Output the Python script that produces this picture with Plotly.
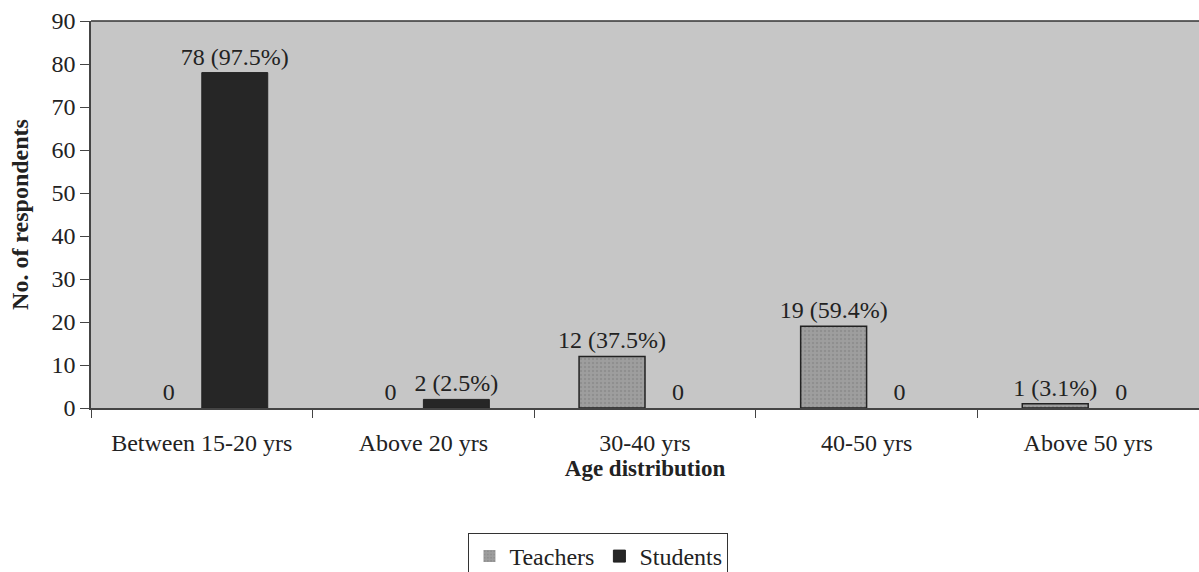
import plotly.graph_objects as go

categories = ["Between 15-20 yrs", "Above 20 yrs", "30-40 yrs", "40-50 yrs", "Above 50 yrs"]
teachers = [0, 0, 12, 19, 1]
students = [78, 2, 0, 0, 0]
teachers_text = ["0", "0", "12 (37.5%)", "19 (59.4%)", "1 (3.1%)"]
students_text = ["78 (97.5%)", "2 (2.5%)", "0", "0", "0"]

FONT = "Liberation Serif"
FS = 24

fig = go.Figure()
fig.add_trace(go.Bar(
    name="Teachers", x=categories, y=teachers, text=teachers_text,
    textposition="outside", cliponaxis=False, constraintext="none",
    textfont=dict(family=FONT, size=FS, color="#222"),
    marker=dict(color="#9e9e9e",
                line=dict(color="#222", width=[1.5 if v else 0 for v in teachers]),
                pattern=dict(shape=".", fgcolor="#808080", size=4, solidity=0.3)),
))
fig.add_trace(go.Bar(
    name="Students", x=categories, y=students, text=students_text,
    textposition="outside", cliponaxis=False, constraintext="none",
    textfont=dict(family=FONT, size=FS, color="#222"),
    marker=dict(color="#262626",
                line=dict(color="#222", width=[1 if v else 0 for v in students])),
))

fig.update_layout(
    width=1199, height=572,
    margin=dict(l=91, r=0, t=21, b=164, autoexpand=False),
    paper_bgcolor="white", plot_bgcolor="#c6c6c6",
    barmode="group", bargap=0.405, bargroupgap=0,
    font=dict(family=FONT, size=FS, color="#222"),
    showlegend=True,
    legend=dict(orientation="h", x=0.458, xanchor="center", y=-0.323, yanchor="top",
                bordercolor="#333", borderwidth=1, bgcolor="white",
                font=dict(family=FONT, size=FS, color="#222"),
                itemwidth=30, traceorder="normal"),
    xaxis=dict(
        type="category", tickson="boundaries", ticks="outside", ticklen=8,
        tickcolor="#444", showline=True, linecolor="#444", linewidth=1.5,
        showgrid=False, ticklabelstandoff=12, automargin=False,
        tickfont=dict(family=FONT, size=FS, color="#222"),
        title=dict(text="<b>Age distribution</b>", standoff=0,
                   font=dict(family=FONT, size=FS - 1, color="#222")),
    ),
    yaxis=dict(
        range=[0, 90], dtick=10, ticks="outside", ticklen=9, tickcolor="#444",
        showline=True, linecolor="#444", linewidth=1.5, showgrid=False,
        zeroline=False, automargin=False,
        tickfont=dict(family=FONT, size=FS, color="#222"),
        title=dict(text="<b>No. of respondents</b>", standoff=16,
                   font=dict(family=FONT, size=FS, color="#222")),
    ),
)
fig.add_shape(type="line", xref="paper", yref="paper", x0=0, x1=1, y0=1, y1=1,
              line=dict(color="#333", width=1.5))

fig.write_html("out.html", config={"displayModeBar": False},
               post_script="document.body.style.margin='0px';")
